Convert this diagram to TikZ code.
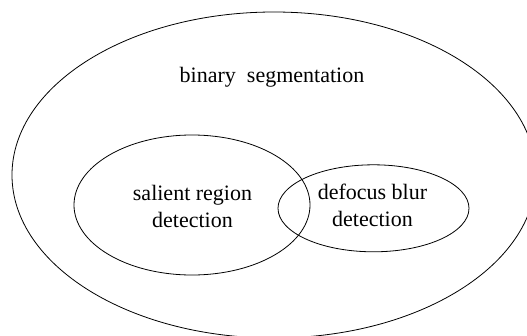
\documentclass[tikz,border=0pt]{standalone}
\usepackage{fontspec}
\setmainfont{Liberation Serif}
\usetikzlibrary{shapes.geometric}
\tikzset{
  region/.style={ellipse, draw, line width=0.8pt, inner sep=0pt, outer sep=0pt},
  lbl/.style={font=\fontsize{22}{27}\selectfont, align=center, inner sep=0pt}
}
\begin{document}
\begin{tikzpicture}[x=1pt,y=-1pt]
\useasboundingbox (0,0) rectangle (527,335);
\clip (0,0) rectangle (527,335);
\node[region, minimum width=524pt, minimum height=326pt] (outer) at (274,175) {};
\node[region, minimum width=236pt, minimum height=140pt] (sal) at (192,205) {};
\node[region, minimum width=191pt, minimum height=87pt] (dfb) at (373.5,208.3) {};
\node[lbl, anchor=base] (bs) at (272,82) {binary\ \ segmentation};
\node[lbl] (salt) at (192.5,206) {salient region\\detection};
\node[lbl] (dfbt) at (372.5,205.5) {defocus blur\\detection};
\end{tikzpicture}
\end{document}
